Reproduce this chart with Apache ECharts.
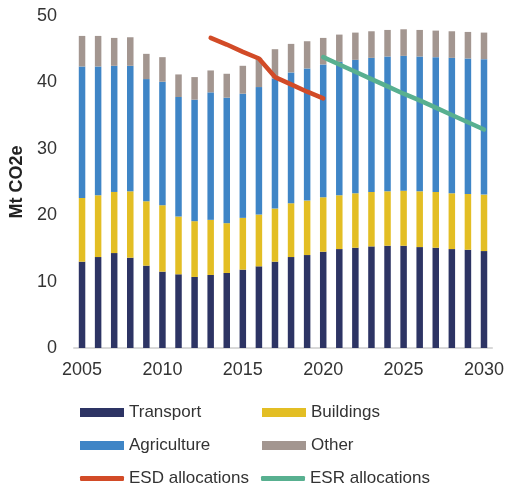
<!DOCTYPE html>
<html>
<head>
<meta charset="utf-8">
<script src="https://cdn.jsdelivr.net/npm/echarts@6/dist/echarts.min.js"></script>
<style>html,body{margin:0;padding:0;background:#fff}#c{width:507px;height:488px}</style>
</head>
<body>
<div id="c"></div>
<script>
var years = ['2005','2006','2007','2008','2009','2010','2011','2012','2013','2014','2015','2016','2017','2018','2019','2020','2021','2022','2023','2024','2025','2026','2027','2028','2029','2030'];
var transport   = [13.0,13.7,14.3,13.6,12.4,11.5,11.1,10.7,11.0,11.3,11.8,12.3,13.0,13.7,14.0,14.5,14.9,15.1,15.3,15.4,15.4,15.2,15.1,14.9,14.8,14.6];
var buildings   = [9.6,9.3,9.2,10.0,9.7,10.0,8.7,8.4,8.3,7.5,7.8,7.8,8.0,8.1,8.2,8.2,8.1,8.2,8.2,8.2,8.3,8.4,8.4,8.4,8.4,8.5];
var agriculture = [19.8,19.4,19.0,18.9,18.4,18.6,18.0,18.3,19.2,18.9,18.7,19.2,19.6,19.7,19.9,20.0,20.1,20.1,20.2,20.3,20.3,20.3,20.3,20.4,20.4,20.4];
var other       = [4.6,4.6,4.2,4.3,3.8,3.7,3.4,3.4,3.3,3.6,4.2,4.4,4.4,4.3,4.1,4.0,4.1,4.1,4.0,4.0,4.0,4.0,4.0,4.0,4.0,4.0];
var esd = [null,null,null,null,null,null,null,null,46.7,45.7,44.6,43.6,40.8,39.7,38.6,37.6,null,null,null,null,null,null,null,null,null,null];
var esr = [null,null,null,null,null,null,null,null,null,null,null,null,null,null,null,43.8,42.7,41.6,40.5,39.4,38.3,37.3,36.2,35.1,34.0,32.9];
var yTicks = [0,10,20,30,40,50];

var FONT = '"Liberation Sans", Arial, sans-serif';
var TXT = '#333333';
var colors = {Transport:'#2D3464', Buildings:'#E3BE24', Agriculture:'#3F85C6', Other:'#A39690', ESD:'#D24B27', ESR:'#58B090'};

function barSeries(name, data) {
  return {name:name, type:'bar', stack:'total', data:data, barWidth:6.5,
    itemStyle:{color:colors[name]}, emphasis:{disabled:true}, z:2};
}
function legendCol(left, top, items, h, gap) {
  return {left:left, top:top, orient:'vertical', itemWidth:44, itemHeight:h, itemGap:gap,
    data:items, textStyle:{fontFamily:FONT, fontSize:17, color:TXT},
    selectedMode:false};
}

var chart = echarts.init(document.getElementById('c'), null, {renderer:'canvas'});
chart.setOption({
  animation:false,
  backgroundColor:'#fff',
  grid:{left:74, right:14, top:16, bottom:140, containLabel:false},
  xAxis:{type:'category', data:years,
    axisLine:{lineStyle:{color:'#d9d9d9', width:2}},
    axisTick:{show:false},
    axisLabel:{interval:4, margin:13, fontFamily:FONT, fontSize:18, color:TXT}},
  yAxis:{type:'value', min:yTicks[0], max:yTicks[yTicks.length-1], interval:10,
    name:'Mt CO2e', nameLocation:'middle', nameGap:44, nameRotate:90,
    nameTextStyle:{fontFamily:FONT, fontSize:18, fontWeight:'bold', color:'#222'},
    splitLine:{show:false}, axisLine:{show:false}, axisTick:{show:false},
    axisLabel:{margin:17, fontFamily:FONT, fontSize:18, color:TXT}},
  legend:[
    legendCol(75, 399, [{name:'Transport', icon:'rect'},{name:'Agriculture', icon:'rect'}], 9, 16),
    legendCol(257, 399, [{name:'Buildings', icon:'rect'},{name:'Other', icon:'rect'}], 9, 16),
    {left:75, top:465, itemWidth:44, itemHeight:5, itemGap:12,
      data:[{name:'ESD allocations', icon:'roundRect'},{name:'ESR allocations', icon:'roundRect'}],
      textStyle:{fontFamily:FONT, fontSize:17, color:TXT}, selectedMode:false}
  ],
  series:[
    barSeries('Transport', transport),
    barSeries('Buildings', buildings),
    barSeries('Agriculture', agriculture),
    barSeries('Other', other),
    {name:'ESD allocations', type:'line', data:esd, symbol:'none', connectNulls:false,
      lineStyle:{color:colors.ESD, width:4.5, cap:'round', join:'round'}, itemStyle:{color:colors.ESD}, z:5},
    {name:'ESR allocations', type:'line', data:esr, symbol:'none', connectNulls:false,
      lineStyle:{color:colors.ESR, width:4.5, cap:'round', join:'round'}, itemStyle:{color:colors.ESR}, z:5}
  ]
});
</script>
</body>
</html>
